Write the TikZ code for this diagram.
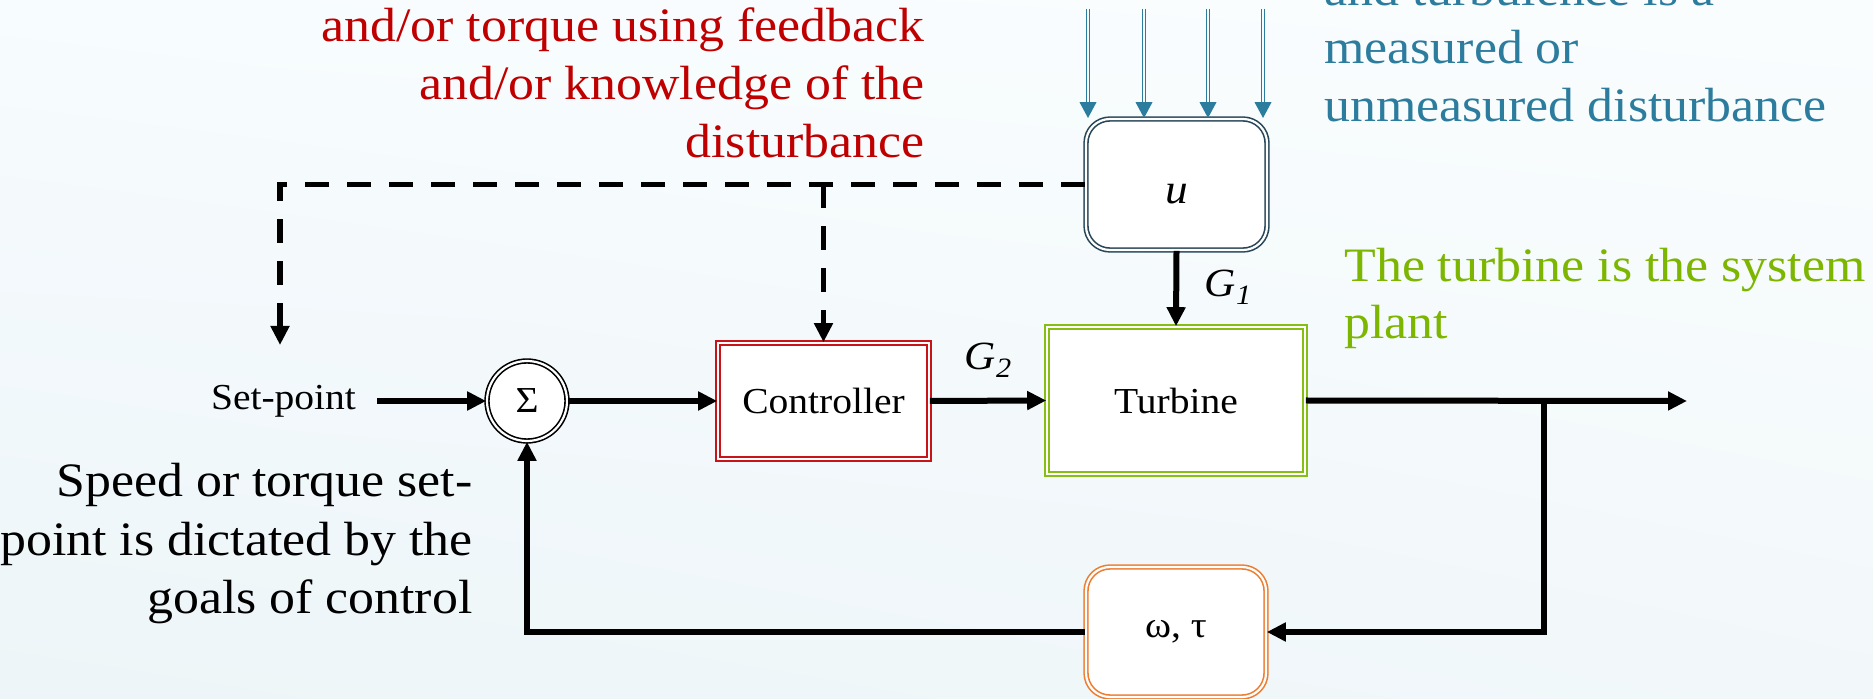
\documentclass[tikz,border=0pt]{standalone}
\usepackage{fontspec}
\setmainfont{Liberation Serif}[FakeStretch=1.08]
\usetikzlibrary{arrows.meta,shadings}
\definecolor{cred}{RGB}{192,0,0}
\definecolor{cboxred}{RGB}{200,20,25}
\definecolor{cblue}{RGB}{44,124,158}
\definecolor{cslate}{RGB}{40,70,88}
\definecolor{cgreen}{RGB}{125,182,0}
\definecolor{cboxgreen}{RGB}{135,190,20}
\definecolor{corange}{RGB}{237,125,49}
\definecolor{bgA}{RGB}{247,252,254}
\definecolor{bgB}{RGB}{250,253,254}
\definecolor{bgC}{RGB}{237,245,248}
\definecolor{bgD}{RGB}{242,248,250}
\definecolor{bgmid}{RGB}{246,251,253}
\newcommand{\annot}{\fontsize{24}{29}\selectfont}
\newcommand{\lbl}{\fontsize{18.3}{21}\selectfont}
\newcommand{\Gsym}[1]{\fontsize{20}{23}\selectfont\textit{G}\raisebox{-0.45ex}{\fontsize{14}{14}\selectfont\textit{#1}}}
\tikzset{
  dbl/.style={draw=#1, double=white, line width=0.8pt, double distance=1.1pt, fill=white, font=\lbl},
  blk/.style={line width=3pt, -{Triangle[length=9.5pt,width=9pt]}},
  dsh/.style={line width=2.9pt, dash pattern=on 12pt off 9pt},
  dsharrow/.style={dsh, -{Triangle[length=9.5pt,width=9pt]}},
  bluearrow/.style={cblue, line width=1.7pt, -{Triangle[length=8pt,width=8pt]}},
  annotation/.style={font=\annot, inner sep=0pt}
}
\begin{document}
\begin{tikzpicture}[x=0.5pt,y=-0.5pt]
\useasboundingbox (0,0) rectangle (1873,699);
\clip (0,0) rectangle (1873,699);
\shade[upper left=bgA, upper right=bgB, lower left=bgC, lower right=bgD] (0,0) rectangle (1873,699);

% blocks
\node[dbl=black, circle, minimum size=40pt, inner sep=0pt] (sum) at (527,401) {Σ};
\node[dbl=cboxred, rectangle, minimum width=105.5pt, minimum height=58pt] (ctrl) at (823.5,401) {Controller};
\node[dbl=cboxgreen, rectangle, minimum width=129pt, minimum height=73.5pt] (turb) at (1176,400.5) {Turbine};
\node[dbl=cslate, rectangle, rounded corners=12pt, minimum width=90.5pt, minimum height=65.5pt] (ubox) at (1176.5,184.5) {\raisebox{-9.5pt}[0pt][0pt]{\fontsize{21}{24}\selectfont\textit{u}}};
\node[dbl=corange, rectangle, rounded corners=12pt, minimum width=90pt, minimum height=65pt] (wt) at (1176,632) {ω, τ};

% labels
\node[font=\lbl, inner sep=0pt] (sp) at (283.5,401) {Set-point};
\node[inner sep=0pt] (g1) at (1228,287) {\Gsym{1}};
\node[inner sep=0pt] (g2) at (988,360) {\Gsym{2}};

% coordinates
\coordinate (spstart) at (377,401);
\coordinate (out) at (1687,401);
\coordinate (br) at (1544,401);
\coordinate (dt) at (280,345);

% main connectors
\draw[blk] (spstart) -- (sum.west);
\draw[blk] (sum.east) -- (ctrl.west);
\draw[blk] (ctrl.east) -- (turb.west);
\draw[blk] (turb.east) -- (out);
\draw[blk] (br) |- (wt.east);
\draw[blk] (wt.west) -| (sum.south);
\draw[blk] (ubox.south) -- (turb.north);

% dashed feed-forward
\draw[dsharrow] (ubox.west) -| (dt);
\draw[dsharrow] (ctrl.north |- ubox.west) -- (ctrl.north);

% disturbance arrows
\foreach \x [count=\i] in {1088,1144,1208,1263} {
  \coordinate (d\i) at (\x,9);
  \draw[bluearrow] (d\i) -- (d\i |- ubox.north);
  \draw[bgmid, line width=0.6pt] (d\i) -- (\x,102);
}

% annotations
\node[annotation, text=cred, anchor=base east] (r1) at (925,42) {and/or torque using feedback};
\node[annotation, text=cred, anchor=base east] (r2) at (925,100) {and/or knowledge of the};
\node[annotation, text=cred, anchor=base east] (r3) at (925,158) {disturbance};

\node[annotation, text=cblue, anchor=base west] (b0) at (1324,6) {and turbulence is a};
\node[annotation, text=cblue, anchor=base west] (b1) at (1324,64) {measured or};
\node[annotation, text=cblue, anchor=base west] (b2) at (1324,122) {unmeasured disturbance};

\node[annotation, text=cgreen, anchor=base west] (gr1) at (1344,282) {The turbine is the system};
\node[annotation, text=cgreen, anchor=base west] (gr2) at (1344,339) {plant};

\node[annotation, text=black, anchor=base east] (k1) at (473,497) {Speed or torque set-};
\node[annotation, text=black, anchor=base east] (k2) at (473,555) {point is dictated by the};
\node[annotation, text=black, anchor=base east] (k3) at (473,613) {goals of control};
\end{tikzpicture}
\end{document}
